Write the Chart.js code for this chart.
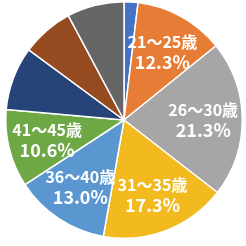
<!DOCTYPE html>
<html>
<head>
<meta charset="utf-8">
<script src="https://cdn.jsdelivr.net/npm/chart.js@4/dist/chart.umd.min.js"></script>
<style>
  html, body { margin: 0; padding: 0; background: #fff; }
  #wrap { width: 246px; height: 246px; }
</style>
</head>
<body>
<div id="wrap"><canvas id="chart1" width="246" height="246"></canvas></div>
<script>
// age groups, share of respondents (%)
var labels = ["20歳以下", "21～25歳", "26～30歳", "31～35歳", "36～40歳", "41～45歳", "46～50歳", "51～55歳", "56歳以上"];
var values = [1.9, 12.3, 21.3, 17.3, 13.0, 10.6, 8.7, 7.1, 7.8];
// only these slices get a label on the picture
var showLabel = [false, true, true, true, true, true, false, false, false];
var colors = ["#4472C4", "#E67C36", "#A6A6A6", "#F2BA1F", "#5A97D0", "#6EA845", "#264478", "#964A20", "#666666"];

var sliceLabels = {
    id: 'sliceLabels',
    afterDatasetsDraw: function(chart) {
        var ctx = chart.ctx;
        var meta = chart.getDatasetMeta(0);
        ctx.save();
        ctx.fillStyle = "#fff";
        ctx.textAlign = "center";
        ctx.textBaseline = "middle";
        meta.data.forEach(function(arc, i) {
            if (!showLabel[i]) return;
            var p = arc.getProps(['x', 'y', 'startAngle', 'endAngle', 'outerRadius'], true);
            var mid = (p.startAngle + p.endAngle) / 2;
            var r = p.outerRadius * 0.67;
            var x = p.x + Math.cos(mid) * r;
            var y = p.y + Math.sin(mid) * r;
            ctx.font = "bold 16px 'Noto Sans CJK JP', 'Noto Sans', sans-serif";
            ctx.fillText(labels[i], x, y - 9);
            ctx.font = "bold 18px 'Noto Sans CJK JP', 'Noto Sans', sans-serif";
            ctx.fillText(values[i].toFixed(1) + "%", x, y + 11);
        });
        ctx.restore();
    }
};

var ctx = document.getElementById("chart1").getContext("2d");
var chart1 = new Chart(ctx, {
    type: 'pie',
    data: {
        labels: labels,
        datasets: [{
            data: values,
            backgroundColor: colors,
            borderColor: "#fff",
            borderWidth: 1.5
        }]
    },
    options: {
        responsive: false,
        animation: false,
        layout: { padding: { left: 5, right: 3, top: 1, bottom: 7 } },
        plugins: {
            legend: { display: false },
            tooltip: { enabled: false }
        }
    },
    plugins: [sliceLabels]
});
</script>
</body>
</html>
